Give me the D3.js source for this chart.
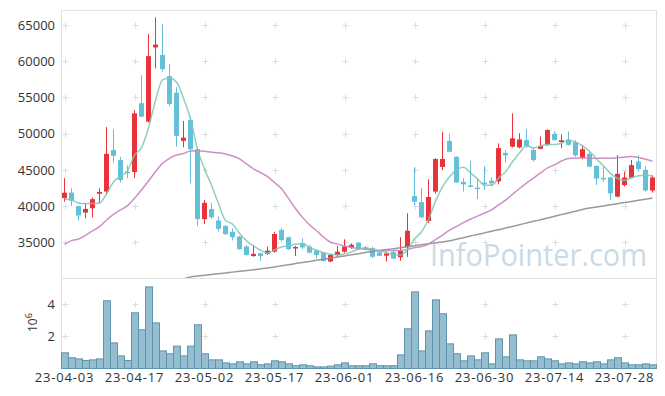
<!DOCTYPE html>
<html>
<head>
<meta charset="utf-8">
<script src="https://cdn.jsdelivr.net/npm/d3@7"></script>
<style>
    body { margin: 0; background: #fff; }
    #chart text { font-family: "Open Sans", sans-serif; }
</style>
</head>
<body>
<div id="chart"></div>
<script>

const dates = [
    "23-04-03","23-04-04","23-04-05","23-04-06","23-04-07","23-04-10","23-04-11","23-04-12","23-04-13","23-04-14",
    "23-04-17","23-04-18","23-04-19","23-04-20","23-04-21","23-04-24","23-04-25","23-04-26","23-04-27","23-04-28",
    "23-05-02","23-05-03","23-05-04","23-05-08","23-05-09","23-05-10","23-05-11","23-05-12","23-05-15","23-05-16",
    "23-05-17","23-05-18","23-05-19","23-05-22","23-05-23","23-05-24","23-05-25","23-05-26","23-05-30","23-05-31",
    "23-06-01","23-06-02","23-06-05","23-06-07","23-06-08","23-06-09","23-06-12","23-06-13","23-06-14","23-06-15",
    "23-06-16","23-06-19","23-06-20","23-06-21","23-06-22","23-06-23","23-06-26","23-06-27","23-06-28","23-06-29",
    "23-06-30","23-07-03","23-07-04","23-07-05","23-07-06","23-07-07","23-07-10","23-07-11","23-07-12","23-07-13",
    "23-07-14","23-07-17","23-07-18","23-07-19","23-07-20","23-07-21","23-07-24","23-07-25","23-07-26","23-07-27",
    "23-07-28","23-07-31","23-08-01","23-08-02","23-08-03"
];

const opens = [
    41100, 41850, 40000, 39100, 39700, 41700, 42000, 47750, 46350, 44750,
    44700, 54200, 51650, 61900, 60850, 57950, 55650, 49000, 51900, 47850,
    38200, 39600, 38000, 37250, 36450, 35800, 34400, 33100, 33500, 33400,
    33700, 36700, 35700, 34250, 34850, 34400, 33850, 33550, 32350, 33250,
    33700, 34300, 34950, 34300, 34200, 33600, 33150, 33650, 32950, 34350,
    41400, 40550, 37950, 42000, 45400, 49000, 46800, 43350, 42850, 42550,
    43250, 43500, 43400, 47350, 48200, 48100, 49100, 47750, 47900, 48450,
    49950, 48850, 49200, 48850, 46650, 47200, 45550, 43900, 43950, 41300,
    42900, 43900, 46150, 45000, 42150
];

const highs = [
    43850, 42450, 40000, 40400, 41200, 42450, 50900, 50600, 46800, 45600,
    53250, 58050, 63750, 66050, 65100, 59600, 56400, 51750, 52450, 48100,
    40850, 40450, 38550, 37400, 36950, 35850, 34600, 34600, 33550, 34400,
    36450, 36950, 35750, 34500, 35550, 34600, 34050, 33600, 33400, 34500,
    35400, 34850, 35050, 34500, 34400, 33900, 33700, 33950, 35700, 39000,
    45350, 42450, 43700, 46600, 50250, 50000, 46850, 43850, 46250, 43850,
    45500, 43950, 48650, 47750, 52800, 50050, 50600, 48100, 49600, 50600,
    50300, 49900, 50300, 49100, 48450, 47450, 45600, 45450, 44050, 47050,
    44750, 46350, 47050, 45550, 44250
];

const lows = [
    40600, 40000, 38000, 38300, 38450, 40500, 41550, 46000, 43250, 43850,
    43850, 52250, 51550, 59000, 58550, 53800, 48200, 48100, 43150, 37250,
    37550, 38200, 36450, 36000, 35250, 34000, 33150, 33000, 32450, 33250,
    33600, 35100, 33950, 33100, 34050, 33500, 32800, 32350, 32250, 33000,
    33550, 34100, 34050, 33900, 32800, 33100, 32350, 32650, 32450, 33000,
    40150, 38300, 37650, 41700, 44950, 47450, 43200, 42000, 42600, 40950,
    42250, 42750, 43000, 46000, 48100, 47950, 48050, 46150, 47850, 48300,
    49050, 48000, 48350, 46800, 46450, 45350, 42900, 43350, 40850, 41200,
    42700, 43850, 44750, 42000, 41850
];

const closes = [
    41850, 40750, 38700, 39600, 40950, 41950, 47200, 46950, 43600, 44650,
    52800, 52350, 60700, 62300, 58900, 54100, 49700, 49450, 47850, 38200,
    40450, 38450, 36850, 36150, 35700, 34050, 33250, 33400, 33100, 33850,
    36150, 35300, 34050, 34350, 34300, 33550, 33250, 32400, 33250, 33700,
    34400, 34650, 34150, 34100, 33000, 33150, 33450, 32750, 33850, 36600,
    40600, 38450, 41250, 46500, 46500, 47500, 43250, 43000, 42700, 42400,
    43050, 43150, 48000, 47000, 49350, 49200, 48200, 46350, 48300, 50500,
    49100, 49100, 48450, 47000, 47850, 45450, 43800, 43750, 41750, 44450,
    43950, 45650, 45100, 42150, 43950
];

// volume in millions
const volumes = [
    0.98, 0.67, 0.60, 0.50, 0.54, 0.60, 4.23, 1.60, 0.79, 0.50,
    3.48, 2.42, 5.10, 2.85, 1.10, 0.92, 1.40, 0.79, 1.40, 2.73,
    0.92, 0.54, 0.54, 0.35, 0.29, 0.42, 0.29, 0.42, 0.23, 0.29,
    0.48, 0.42, 0.29, 0.17, 0.23, 0.17, 0.10, 0.10, 0.15, 0.23,
    0.35, 0.17, 0.17, 0.17, 0.29, 0.17, 0.17, 0.17, 0.85, 2.48,
    4.79, 1.10, 2.35, 4.29, 3.42, 1.54, 0.92, 0.48, 0.79, 0.54,
    0.98, 0.29, 1.85, 0.73, 2.10, 0.54, 0.48, 0.48, 0.73, 0.60,
    0.48, 0.29, 0.35, 0.29, 0.42, 0.35, 0.42, 0.29, 0.54, 0.67,
    0.35, 0.23, 0.23, 0.29, 0.23
];

const ma5 = [
    40980, 40840, 40430, 40340, 40370, 40390, 41680, 43330, 44130, 44870,
    47040, 48070, 50820, 54560, 57410, 57670, 57140, 54890, 52000, 47860,
    45130, 42880, 40360, 38020, 37520, 36240, 35200, 34510, 33900, 33530,
    33950, 34360, 34490, 34740, 34830, 34310, 33900, 33570, 33350, 33230,
    33400, 33680, 34030, 34200, 34060, 33810, 33570, 33290, 33240, 33960,
    35450, 36450, 38150, 40680, 42660, 44040, 45000, 45350, 44590, 43770,
    42880, 42860, 43860, 44720, 46110, 47340, 48350, 48020, 48280, 48510,
    48490, 48670, 49090, 48830, 48300, 47570, 46510, 45570, 44520, 43840,
    43540, 43910, 44180, 44260, 44160
];

const ma20 = [
    34720, 35230, 35460, 35960, 36560, 37160, 38080, 38860, 39460, 40060,
    41070, 42220, 43460, 44750, 45900, 46590, 47050, 47250, 47600, 47630,
    47560, 47440, 47350, 47180, 46920, 46520, 45820, 45150, 44620, 44080,
    43250, 42400, 41060, 39670, 38440, 37410, 36590, 35730, 35000, 34780,
    34480, 34290, 34150, 34050, 33910, 33870, 33880, 33850, 33880, 34020,
    34240, 34400, 34760, 35370, 35980, 36680, 37180, 37710, 38180, 38610,
    39050, 39470, 40160, 40810, 41630, 42430, 43170, 43850, 44570, 45260,
    45690, 46220, 46580, 46610, 46670, 46570, 46600, 46640, 46590, 46690,
    46740, 46860, 46720, 46470, 46200
];

const maLong = [
    null, null, null, null, null, null, null, null, null, null,
    null, null, null, null, null, null, null, 29950, 30200, 30330,
    30450, 30560, 30660, 30770, 30880, 30990, 31100, 31210, 31330, 31450,
    31600, 31750, 31900, 32060, 32210, 32360, 32510, 32660, 32820, 32970,
    33120, 33270, 33420, 33580, 33720, 33850, 33990, 34120, 34250, 34390,
    34520, 34650, 34790, 34920, 35050, 35200, 35420, 35640, 35860, 36080,
    36300, 36520, 36730, 36960, 37190, 37420, 37660, 37890, 38120, 38350,
    38590, 38820, 39050, 39290, 39520, 39720, 39870, 40020, 40180, 40330,
    40490, 40640, 40790, 40950, 41100
];

const priceTicks = [35000, 40000, 45000, 50000, 55000, 60000, 65000];
const volumeTicks = [2, 4];
const tickDates = ["23-04-03", "23-04-17", "23-05-02", "23-05-17", "23-06-01",
    "23-06-16", "23-06-30", "23-07-14", "23-07-28"];


class CandleChart {

    constructor () {
        this.width = 665;
        this.height = 396;
        this.left = 61;
        this.right = 656;
        this.top = 10;
        this.split = 278;
        this.bottom = 368;

        this.upColor = "#e8333b";
        this.downColor = "#64bfd8";

        this.svg = d3.select("#chart")
            .append("svg")
            .attr("width", this.width)
            .attr("height", this.height);

        this.x = d3.scaleBand()
            .domain(d3.range(dates.length))
            .range([this.left, this.right])
            .padding(0);

        this.y = d3.scaleLinear()
            .domain([30000, 67000])
            .range([this.split + 0.5, this.top + 0.5]);

        this.yVol = d3.scaleLinear()
            .domain([0, 5.625])
            .range([this.bottom, this.split]);

        this.drawFrame();
        this.drawWatermark();
        this.drawVolume();
        this.drawCandles();
        this.drawAverages();
        this.drawAxes();
    }

    center (i) {
        return this.x(i) + this.x.bandwidth() / 2;
    }

    drawFrame () {
        let that = this;
        let frame = this.svg.append("g").attr("stroke", "#e2e2e2").attr("stroke-width", 1);

        frame.append("line")
            .attr("x1", this.left + 0.5).attr("x2", this.left + 0.5)
            .attr("y1", this.top).attr("y2", this.bottom);
        frame.append("line")
            .attr("x1", this.right + 0.5).attr("x2", this.right + 0.5)
            .attr("y1", this.top).attr("y2", this.bottom);
        frame.append("line")
            .attr("x1", this.left).attr("x2", this.right + 1)
            .attr("y1", this.top + 0.5).attr("y2", this.top + 0.5);
        frame.append("line")
            .attr("x1", this.left).attr("x2", this.right + 1)
            .attr("y1", this.split + 0.5).attr("y2", this.split + 0.5);

        // little crosses where the ticks meet
        let crossX = tickDates.map(d => Math.round(that.center(dates.indexOf(d))) + 0.5);
        let crossY = priceTicks.map(v => Math.round(that.y(v)) + 0.5)
            .concat(volumeTicks.map(v => Math.round(that.yVol(v)) + 0.5));

        let crosses = this.svg.append("g").attr("stroke", "#dcdcdc").attr("stroke-width", 1);
        crossX.forEach(cx => {
            crossY.forEach(cy => {
                crosses.append("line")
                    .attr("x1", cx - 3).attr("x2", cx + 3)
                    .attr("y1", cy).attr("y2", cy);
                crosses.append("line")
                    .attr("x1", cx).attr("x2", cx)
                    .attr("y1", cy - 3).attr("y2", cy + 3);
            });
        });
    }

    drawWatermark () {
        this.svg.append("text")
            .attr("x", 430)
            .attr("y", 266)
            .attr("textLength", 217)
            .attr("lengthAdjust", "spacingAndGlyphs")
            .style("font-size", "31px")
            .attr("fill", "#c8dbe5")
            .text("InfoPointer.com");
    }

    drawVolume () {
        let that = this;

        this.svg.append("g")
            .selectAll("rect")
            .data(volumes)
            .enter()
            .append("rect")
            .attr("x", (d, i) => that.x(i) + 0.5)
            .attr("y", d => that.yVol(d) + 0.5)
            .attr("width", this.x.bandwidth())
            .attr("height", d => that.yVol(0) - that.yVol(d))
            .attr("fill", "#95bdd0")
            .attr("stroke", "#5f94ad")
            .attr("stroke-width", 1);
    }

    drawCandles () {
        let that = this;

        this.svg.append("clipPath")
            .attr("id", "main-clip")
            .append("rect")
            .attr("x", this.left)
            .attr("y", this.top)
            .attr("width", this.right - this.left)
            .attr("height", this.split - this.top);

        let candles = this.svg.append("g")
            .attr("clip-path", "url(#main-clip)")
            .selectAll("g")
            .data(d3.range(dates.length))
            .enter()
            .append("g")
            .attr("fill", i => closes[i] >= opens[i] ? that.upColor : that.downColor)
            .attr("stroke", i => closes[i] >= opens[i] ? that.upColor : that.downColor);

        candles.append("line")
            .attr("x1", i => Math.floor(that.center(i)) + 0.5)
            .attr("x2", i => Math.floor(that.center(i)) + 0.5)
            .attr("y1", i => that.y(highs[i]))
            .attr("y2", i => that.y(lows[i]))
            .attr("stroke-width", 1);

        candles.append("rect")
            .attr("x", i => Math.floor(that.center(i)) - 2)
            .attr("y", i => that.y(Math.max(opens[i], closes[i])))
            .attr("width", 5)
            .attr("height", i => Math.max(1.5, that.y(Math.min(opens[i], closes[i])) - that.y(Math.max(opens[i], closes[i]))))
            .attr("stroke", "none");
    }

    drawAverages () {
        let that = this;

        let line = d3.line()
            .defined(d => d !== null)
            .x((d, i) => that.center(i))
            .y(d => that.y(d))
            .curve(d3.curveMonotoneX);

        let g = this.svg.append("g")
            .attr("clip-path", "url(#main-clip)")
            .attr("fill", "none")
            .attr("stroke-width", 1.5);

        g.append("path").datum(maLong).attr("d", line).attr("stroke", "#8f8f8f").attr("opacity", 0.9);
        g.append("path").datum(ma20).attr("d", line).attr("stroke", "#c783c2").attr("opacity", 0.9);
        g.append("path").datum(ma5).attr("d", line).attr("stroke", "#7cc5b5").attr("opacity", 0.85);
    }

    drawAxes () {
        let that = this;
        let labels = this.svg.append("g").attr("fill", "#333").style("font-size", "13px");

        labels.selectAll(".price-label")
            .data(priceTicks)
            .enter()
            .append("text")
            .attr("class", "price-label")
            .attr("x", 55)
            .attr("y", d => that.y(d))
            .attr("dy", "0.36em")
            .attr("text-anchor", "end")
            .text(d => d);

        labels.selectAll(".vol-label")
            .data(volumeTicks)
            .enter()
            .append("text")
            .attr("class", "vol-label")
            .attr("x", 55)
            .attr("y", d => that.yVol(d))
            .attr("dy", "0.36em")
            .attr("text-anchor", "end")
            .text(d => d);

        labels.selectAll(".date-label")
            .data(tickDates)
            .enter()
            .append("text")
            .attr("class", "date-label")
            .attr("x", d => that.center(dates.indexOf(d)))
            .attr("y", 382)
            .attr("text-anchor", "middle")
            .style("letter-spacing", "0.8px")
            .text(d => d);

        let unit = labels.append("text")
            .attr("transform", "translate(37,332) rotate(-90)")
            .style("font-size", "12px");
        unit.append("tspan").text("10");
        unit.append("tspan").attr("dy", -5).style("font-size", "9px").text("6");
    }

}

new CandleChart();

</script>
</body>
</html>
